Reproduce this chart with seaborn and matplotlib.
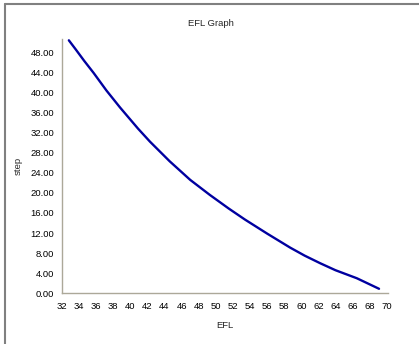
import matplotlib
matplotlib.use("Agg")
import matplotlib.pyplot as plt
from matplotlib.lines import Line2D
import seaborn as sns
import pandas as pd

efl = [32.8, 33.6, 34.6, 35.7, 37.2, 38.8, 40.9, 42.3, 44.6, 47.0, 49.3,
       51.5, 53.4, 56.0, 58.7, 60.4, 62.2, 64.0, 66.5, 69.1]
step = [50.4, 48.6, 46.3, 43.9, 40.4, 37.0, 32.8, 30.2, 26.3, 22.6, 19.6,
        16.9, 14.7, 11.9, 9.1, 7.5, 6.0, 4.6, 3.0, 0.9]
xticks = list(range(32, 71, 2))
yticks = list(range(0, 49, 4))

sns.set_style("white")
plt.rcParams['font.family'] = ['Liberation Sans', 'DejaVu Sans']

df = pd.DataFrame({"EFL": efl, "step": step})

fig = plt.figure(figsize=(4.19, 3.44), dpi=100)
ax = fig.add_axes([0.148, 0.1474, 0.778, 0.7392])
sns.lineplot(data=df, x="EFL", y="step", sort=False, color="#0000a0",
             linewidth=1.7, ax=ax)

ax.set_xlim(32, 70.15)
ax.set_ylim(0, 50.66)
ax.set_xticks(xticks)
ax.set_xticklabels([str(t) for t in xticks])
ax.set_yticks(yticks)
ax.set_yticklabels([f"{t:.2f}" for t in yticks])

spine_col = "#aca899"
for s in ["top", "right"]:
    ax.spines[s].set_visible(False)
for s in ["left", "bottom"]:
    ax.spines[s].set_color(spine_col)
    ax.spines[s].set_linewidth(1.0)
ax.tick_params(axis="both", which="major", direction="out", length=3.5,
               width=1.0, color=spine_col, labelsize=6.8, labelcolor="#000000",
               pad=2)
ax.tick_params(axis="x", pad=3)

ax.set_xlabel("EFL", fontsize=6.8, labelpad=7)
ax.set_ylabel("step", fontsize=6.8, labelpad=6)
fig.text(0.503, 0.933, "EFL Graph", ha="center", va="center", fontsize=6.8)

# panel border (top and left)
fig.add_artist(Line2D([0.012, 1.0], [0.9875, 0.9875], transform=fig.transFigure,
                      color="#808080", linewidth=1.5))
fig.add_artist(Line2D([0.012, 0.012], [0.0, 0.9875], transform=fig.transFigure,
                      color="#808080", linewidth=1.5))

fig.savefig("out.png", dpi=100)
